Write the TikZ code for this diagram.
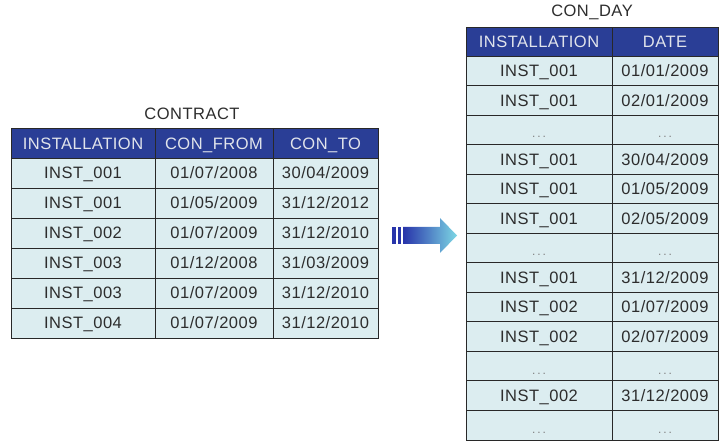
\documentclass[tikz,border=0pt]{standalone}
\usepackage{fontspec}
\setmainfont[LetterSpace=3]{Liberation Sans}
\definecolor{hdrblue}{RGB}{42,62,150}
\definecolor{hdrtext}{RGB}{225,228,235}
\definecolor{cellfill}{RGB}{220,237,240}
\definecolor{celltext}{RGB}{45,45,45}
\definecolor{gridline}{RGB}{40,40,40}
\definecolor{arrowdark}{RGB}{40,52,170}
\definecolor{arrowlight}{RGB}{125,215,228}
\usetikzlibrary{positioning}

% one data row of the CONTRACT table: row index, three values
\newcommand\contractline[4]{%
  \node[cell, minimum width=144pt] (k-#1-1) at (83,{158+30*#1-15}) {#2};
  \node[cell, minimum width=118pt] (k-#1-2) at (214,{158+30*#1-15}) {#3};
  \node[cell, minimum width=105pt] (k-#1-3) at (325.5,{158+30*#1-15}) {#4};}
% one data row of the CON_DAY table
\newcommand\daysline[3]{%
  \node[cell, minimum width=146pt, minimum height=29.54pt] (d-#1-1) at (539,{56+29.54*#1-14.77}) {#2};
  \node[cell, minimum width=106pt, minimum height=29.54pt] (d-#1-2) at (665,{56+29.54*#1-14.77}) {#3};}
% elided rows
\newcommand\gap{{\color{gray}\fontsize{12}{12}\selectfont\raisebox{-2pt}{.\kern2pt.\kern2pt.}}}

\begin{document}
\begin{tikzpicture}[x=1pt,y=-1pt,
  tfont/.style={font=\fontsize{16.5}{19}\selectfont},
  cell/.style={draw=gridline, line width=0.9pt, fill=cellfill, text=celltext,
    inner sep=0pt, minimum height=30pt, text height=11.8pt, text depth=0pt, tfont},
  head/.style={cell, fill=hdrblue, text=hdrtext},
  title/.style={text=celltext, inner sep=0pt, text height=11.8pt, text depth=0pt, tfont}]
\useasboundingbox (0,0) rectangle (720,443);

% ---- CONTRACT ----
\node[title] (contract) at (192,114) {CONTRACT};
\node[head, minimum width=144pt] (k-0-1) at (83,143.5) {INSTALLATION};
\node[head, minimum width=118pt] (k-0-2) at (214,143.5) {CON\_FROM};
\node[head, minimum width=105pt] (k-0-3) at (325.5,143.5) {CON\_TO};
\contractline{1}{INST\_001}{01/07/2008}{30/04/2009}
\contractline{2}{INST\_001}{01/05/2009}{31/12/2012}
\contractline{3}{INST\_002}{01/07/2009}{31/12/2010}
\contractline{4}{INST\_003}{01/12/2008}{31/03/2009}
\contractline{5}{INST\_003}{01/07/2009}{31/12/2010}
\contractline{6}{INST\_004}{01/07/2009}{31/12/2010}

% ---- CON_DAY ----
\node[title] (conday) at (592,11) {CON\_DAY};
\node[head, minimum width=146pt, minimum height=29pt] (d-0-1) at (539,41.5) {INSTALLATION};
\node[head, minimum width=106pt, minimum height=29pt] (d-0-2) at (665,41.5) {DATE};
\daysline{1}{INST\_001}{01/01/2009}
\daysline{2}{INST\_001}{02/01/2009}
\daysline{3}{\gap}{\gap}
\daysline{4}{INST\_001}{30/04/2009}
\daysline{5}{INST\_001}{01/05/2009}
\daysline{6}{INST\_001}{02/05/2009}
\daysline{7}{\gap}{\gap}
\daysline{8}{INST\_001}{31/12/2009}
\daysline{9}{INST\_002}{01/07/2009}
\daysline{10}{INST\_002}{02/07/2009}
\daysline{11}{\gap}{\gap}
\daysline{12}{INST\_002}{31/12/2009}
\daysline{13}{\gap}{\gap}

% ---- transformation arrow ----
\fill[arrowdark] (392,227) rectangle (395.5,244);
\fill[arrowdark] (397.5,227) rectangle (401,244);
\shade[left color=arrowdark, right color=arrowlight]
  (403,227) -- (440,227) -- (440,218) -- (457,235.5) -- (440,253) -- (440,244) -- (403,244) -- cycle;
\end{tikzpicture}
\end{document}
